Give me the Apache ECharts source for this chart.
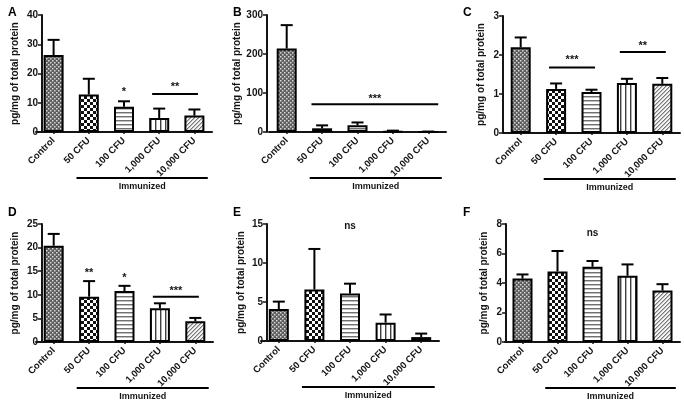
<!DOCTYPE html>
<html><head><meta charset="utf-8">
<script src="https://cdn.jsdelivr.net/npm/echarts@6/dist/echarts.min.js"></script>
<style>html,body{margin:0;padding:0;background:#fff}#c{width:684px;height:402px}</style>
</head><body><div id="c"></div>
<script>
// ---------- data ----------
const categories = ['Control', '50 CFU', '100 CFU', '1,000 CFU', '10,000 CFU'];
const yAxisName = 'pg/mg of total protein';
const groupLabel = 'Immunized';
const groupSpan = [1, 4];
const panelLetters = ['A', 'B', 'C', 'D', 'E', 'F'];

// [min, max, interval]
const yTicksA = [0, 40, 10];
const yTicksB = [0, 300, 100];
const yTicksC = [0, 3, 1];
const yTicksD = [0, 25, 5];
const yTicksE = [0, 15, 5];
const yTicksF = [0, 8, 2];

const meansA = [26.3, 12.8, 8.6, 4.8, 5.6];
const upperA = [31.5, 18.2, 10.5, 8.0, 7.7];
const meansB = [214, 9.5, 17, 1.5, 0.5];
const upperB = [274, 17, 24.5, 3.5, 1.2];
const meansC = [2.2, 1.13, 1.05, 1.28, 1.26];
const upperC = [2.45, 1.27, 1.11, 1.39, 1.41];
const meansD = [20.4, 9.6, 10.8, 7.15, 4.4];
const upperD = [22.9, 12.9, 11.9, 8.2, 5.1];
const meansE = [4.1, 6.6, 6.1, 2.35, 0.5];
const upperE = [5.05, 11.8, 7.35, 3.4, 0.95];
const meansF = [4.3, 4.78, 5.1, 4.49, 3.49];
const upperF = [4.58, 6.17, 5.49, 5.26, 3.92];

// [fromCategory, toCategory, lineValue (null = no line), textValue, label]
const sigA = [[2, 2, null, 14.7, '*'], [3, 4, 13.0, 16.2, '**']];
const sigB = [[1, 4, 71, 92, '***']];
const sigC = [[1, 2, 1.68, 1.94, '***'], [3, 4, 2.08, 2.29, '**']];
const sigD = [[1, 1, null, 15.1, '**'], [2, 2, null, 14.2, '*'], [3, 4, 9.6, 11.3, '***']];
const sigE = [[2, 2, null, 14.7, 'ns']];
const sigF = [[2, 2, null, 7.37, 'ns']];

// ---------- style / layout ----------
const FONT = '"Liberation Sans", Arial, sans-serif';
const INK = '#141414';
const layouts = [
  {grid: {left: 36, top: 15, width: 176, height: 117}, yOff: -6, nameGap: 22, letter: [3, 2], sigExt: [0.2, 0.1]},
  {grid: {left: 269, top: 15, width: 177, height: 117}, yOff: 2, nameGap: 21, letter: [228, 2], sigExt: [0.3, 0.28]},
  {grid: {left: 503, top: 16, width: 177, height: 117}, yOff: 0, nameGap: 17, letter: [458, 2], sigExt: [0.2, 0.1]},
  {grid: {left: 36, top: 224, width: 177, height: 118}, yOff: -6, nameGap: 22, letter: [3, 202], sigExt: [0.2, 0.1]},
  {grid: {left: 261, top: 224, width: 178, height: 117}, yOff: -6, nameGap: 21, letter: [228, 202], sigExt: [0.2, 0.1]},
  {grid: {left: 505, top: 224, width: 175, height: 118}, yOff: -1, nameGap: 17, letter: [458, 202], sigExt: [0.2, 0.1]}
];

function makePattern(w, h, draw) {
  const c = document.createElement('canvas');
  c.width = w; c.height = h;
  const g = c.getContext('2d');
  draw(g);
  return {image: c, repeat: 'repeat'};
}
const patterns = [
  makePattern(4, 4, g => { g.fillStyle = '#5e5e5e'; g.fillRect(0, 0, 4, 4); g.fillStyle = '#d8d8d8'; g.fillRect(0, 0, 1.5, 1.5); g.fillRect(2, 2, 1.5, 1.5); }),
  makePattern(6, 6, g => { g.fillStyle = '#fff'; g.fillRect(0, 0, 6, 6); g.fillStyle = '#111'; g.fillRect(0, 0, 3, 3); g.fillRect(3, 3, 3, 3); }),
  makePattern(4, 4, g => { g.fillStyle = '#fff'; g.fillRect(0, 0, 4, 4); g.fillStyle = '#707070'; g.fillRect(0, 0, 4, 1); g.fillStyle = '#c0c0c0'; g.fillRect(0, 1, 4, 1); }),
  makePattern(5, 4, g => { g.fillStyle = '#fff'; g.fillRect(0, 0, 5, 4); g.fillStyle = '#404040'; g.fillRect(0, 0, 1, 4); g.fillStyle = '#b0b0b0'; g.fillRect(1, 0, 1, 4); }),
  makePattern(4, 4, g => { g.fillStyle = '#f4f4f4'; g.fillRect(0, 0, 4, 4); g.fillStyle = '#777'; for (let i = 0; i < 4; i++) { g.fillRect(3 - i, i, 1, 1); } g.fillStyle = '#bbb'; for (let i = 0; i < 4; i++) { g.fillRect((4 - i) % 4, i, 1, 1); } })
];

const panels = [
  {ticks: yTicksA, means: meansA, upper: upperA, sig: sigA},
  {ticks: yTicksB, means: meansB, upper: upperB, sig: sigB},
  {ticks: yTicksC, means: meansC, upper: upperC, sig: sigC},
  {ticks: yTicksD, means: meansD, upper: upperD, sig: sigD},
  {ticks: yTicksE, means: meansE, upper: upperE, sig: sigE},
  {ticks: yTicksF, means: meansF, upper: upperF, sig: sigF}
];

const option = {
  animation: false,
  backgroundColor: '#fff',
  textStyle: {fontFamily: FONT},
  title: [], grid: [], xAxis: [], yAxis: [], series: []
};

panels.forEach((p, i) => {
  const L = layouts[i];
  option.title.push({text: panelLetters[i], left: L.letter[0], top: L.letter[1],
    textStyle: {fontFamily: FONT, fontSize: 12, fontWeight: 'bold', color: '#000'}});
  option.grid.push(Object.assign({containLabel: false}, L.grid));
  option.xAxis.push({
    type: 'category', gridIndex: i, data: categories,
    axisLine: {lineStyle: {color: INK, width: 2}},
    axisTick: {show: true, alignWithLabel: true, length: 2, lineStyle: {color: INK, width: 1.5}},
    axisLabel: {interval: 0, rotate: 45, margin: 7, fontSize: 9.5, fontWeight: 'bold', color: INK, fontFamily: FONT}
  });
  option.yAxis.push({
    type: 'value', gridIndex: i, min: p.ticks[0], max: p.ticks[1], interval: p.ticks[2],
    offset: L.yOff,
    name: yAxisName, nameLocation: 'middle', nameRotate: 90, nameGap: L.nameGap,
    nameTextStyle: {fontSize: 10, fontWeight: 'bold', color: INK, fontFamily: FONT},
    axisLine: {show: true, lineStyle: {color: INK, width: 2}},
    axisTick: {show: true, length: 4, lineStyle: {color: INK, width: 1.5}},
    axisLabel: {fontSize: 10, fontWeight: 'bold', color: INK, margin: 4, fontFamily: FONT},
    splitLine: {show: false}
  });
  option.series.push({
    type: 'bar', xAxisIndex: i, yAxisIndex: i, barWidth: 20,
    data: p.means.map((v, k) => ({value: v, itemStyle: {color: patterns[k]}})),
    itemStyle: {borderColor: '#000', borderWidth: 2},
    z: 2
  });
  option.series.push({
    type: 'custom', xAxisIndex: i, yAxisIndex: i, z: 3,
    data: p.means.map((v, k) => [k, v, p.upper[k]]),
    renderItem: (params, api) => {
      const a = api.coord([api.value(0), api.value(1)]);
      const b = api.coord([api.value(0), api.value(2)]);
      return {type: 'group', children: [
        {type: 'line', shape: {x1: a[0], y1: a[1], x2: b[0], y2: b[1]}, style: {stroke: '#000', lineWidth: 2}},
        {type: 'line', shape: {x1: b[0] - 6, y1: b[1], x2: b[0] + 6, y2: b[1]}, style: {stroke: '#000', lineWidth: 2}}
      ]};
    }
  });
  option.series.push({
    type: 'custom', xAxisIndex: i, yAxisIndex: i, z: 4, clip: false,
    data: p.sig.map(s => [s[0], s[3]]),
    renderItem: (params, api) => {
      const s = p.sig[params.dataIndex];
      const band = api.size([1, 0])[0];
      const pf = api.coord([s[0], s[3]]);
      const pt = api.coord([s[1], s[3]]);
      const children = [];
      let cx = (pf[0] + pt[0]) / 2;
      if (s[2] !== null) {
        const ly = api.coord([s[0], s[2]])[1];
        const x1 = pf[0] - L.sigExt[0] * band, x2 = pt[0] + L.sigExt[1] * band;
        cx = (x1 + x2) / 2;
        children.push({type: 'line', shape: {x1: x1, y1: ly, x2: x2, y2: ly}, style: {stroke: '#000', lineWidth: 2}});
      }
      const dy = s[4].indexOf('*') >= 0 ? 2.5 : 0;
      children.push({type: 'text', x: cx, y: pf[1] + dy, style: {text: s[4], align: 'center', verticalAlign: 'middle',
        font: 'bold ' + (s[4] === 'ns' ? 10 : 11) + 'px ' + FONT, fill: INK}});
      return {type: 'group', children: children};
    }
  });
  option.series.push({
    type: 'custom', xAxisIndex: i, yAxisIndex: i, z: 4, clip: false,
    data: [[groupSpan[0], p.ticks[0]]],
    renderItem: (params, api) => {
      const band = api.size([1, 0])[0];
      const a = api.coord([groupSpan[0], p.ticks[0]]);
      const b = api.coord([groupSpan[1], p.ticks[0]]);
      const x1 = a[0] - 0.35 * band, x2 = b[0] + 0.38 * band;
      const y = a[1] + 46;
      return {type: 'group', children: [
        {type: 'line', shape: {x1: x1, y1: y, x2: x2, y2: y}, style: {stroke: '#000', lineWidth: 2}},
        {type: 'text', x: (x1 + x2) / 2, y: y + 9, style: {text: groupLabel, align: 'center', verticalAlign: 'middle',
          font: 'bold 9px ' + FONT, fill: INK}}
      ]};
    }
  });
});

const chart = echarts.init(document.getElementById('c'), null, {renderer: 'canvas'});
chart.setOption(option);
</script>
</body></html>
